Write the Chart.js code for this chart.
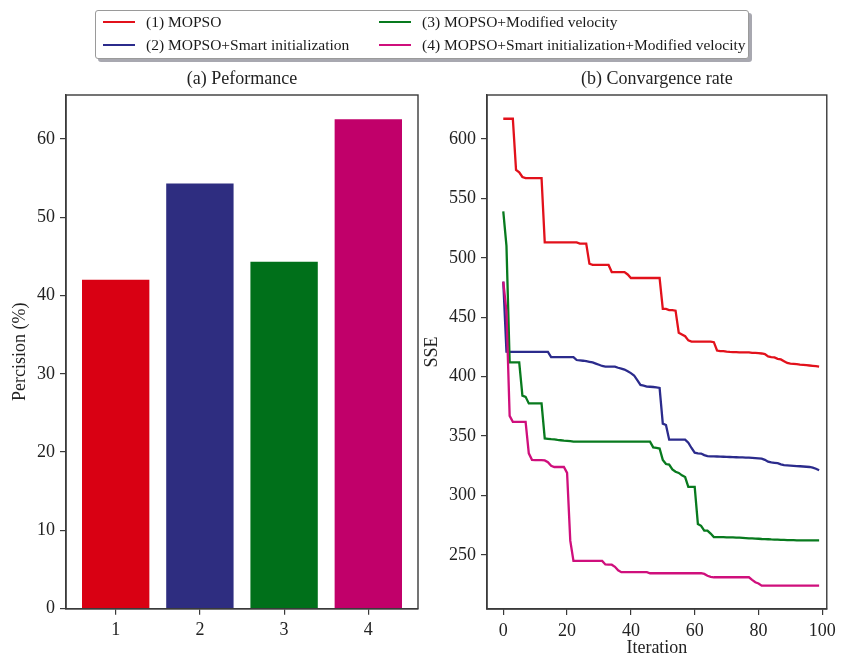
<!DOCTYPE html>
<html>
<head>
<meta charset="utf-8">
<script src="https://cdn.jsdelivr.net/npm/chart.js@4.4.1/dist/chart.umd.min.js"></script>
<style>
  html, body { margin:0; padding:0; background:#fff; }
  #wrap { position:relative; width:841px; height:657px; overflow:hidden; background:#fff; font-family:'Liberation Serif','Times New Roman',serif; }
  canvas { position:absolute; top:0; }
  #cA { left:0; }
  #cB { left:420px; }
  #legend { position:absolute; left:95px; top:10px; width:652px; height:47px; border:1px solid #9a9a9a; border-radius:3px; background:#fff; box-shadow:3px 3px 0 #a8a8b0; z-index:5; }
  .lg { position:absolute; height:20px; display:flex; align-items:center; font-size:15.5px; color:#1a1a1a; white-space:nowrap; }
  .lg .h { width:32px; height:2px; margin-right:11px; }
</style>
</head>
<body>
<div id="wrap">
  <canvas id="cA" width="430" height="657"></canvas>
  <canvas id="cB" width="421" height="657"></canvas>
  <div id="legend"></div>
</div>
<script>
// ---------- data ----------
const seriesNames = ['(1) MOPSO', '(2) MOPSO+Smart initialization', '(3) MOPSO+Modified velocity', '(4) MOPSO+Smart initialization+Modified velocity'];
const barCategories = [1, 2, 3, 4];
const barValues = [42.0, 54.3, 44.3, 62.5];
const barTicks = [0, 10, 20, 30, 40, 50, 60];

const sseTicks = [250, 300, 350, 400, 450, 500, 550, 600];
const iterTicks = [0, 20, 40, 60, 80, 100];

const mopso = [617,617,617,617,574,572,568,567,567,567,567,567,567,
  513,513,513,513,513,513,513,513,513,513,513,512,512,512,495,
  494,494,494,494,494,494,488,488,488,488,488,486,
  483,483,483,483,483,483,483,483,483,483,
  457,457,456,456,455.5,437,435.5,434,430.5,
  429.5,429.5,429.5,429.5,429.5,429.5,429.5,429,
  422,421.5,421.5,421,420.8,420.7,420.6,420.5,420.5,420.4,420.4,
  420,420,419.8,419.5,419,417,416.5,416.2,415,414.5,413,411.5,
  411,410.8,410.5,410.2,410,409.7,409.4,409.1,408.8,408.5];

const mopsoSmart = [480,421,
  420.8,420.8,420.8,420.8,420.8,420.8,420.8,420.8,420.8,420.8,420.8,420.8,420.8,
  416.5,416.5,416.5,416.5,416.5,416.5,416.5,416.5,
  414,413.7,413.4,413,412.5,412,411,410,409,
  408.5,408.5,408.5,408.5,407.5,406.8,406,404.5,403,401,397,393,392.5,
  391.7,391.5,391.3,391,390.5,360.5,359.3,
  347,347,347,347,347,347,344.5,340,336,335.5,335.3,334,
  333.2,333,332.9,332.8,332.7,332.6,332.5,
  332.4,332.3,332.2,332.1,332,331.9,331.8,331.6,331.4,331.2,
  331,330,328.5,327.8,327.5,327.2,326.2,
  325.6,325.4,325.2,325,324.8,324.6,324.4,
  324.2,324,323.5,322.5,321.3];

const mopsoVel = [539,510,412,412,412,412,384,383,377.5,377.5,377.5,377.5,377.5,
  348,347.7,347.4,347.2,346.8,346.5,346.2,346,345.7,
  345.3,345.3,345.3,345.3,345.3,345.3,345.3,345.3,345.3,345.3,345.3,345.3,345.3,
  345.3,345.3,345.3,345.3,345.3,345.3,345.3,345.3,345.3,345.3,345.3,345.3,
  340.5,340,339.5,330,326.5,326,322,320,319,317,315.5,
  307.2,307.2,307.2,276,274.5,270.5,270.5,268,
  265,265,265,265,264.8,264.8,264.7,264.6,264.5,264.4,
  264.2,264,263.9,263.7,263.6,263.4,263.3,263.2,263,262.9,
  262.8,262.7,262.6,262.5,262.5,262.4,262.3,262.3,262.2,262.2,262.2,262.2,262.2,262.2];

const mopsoSmartVel = [480,455,367,362,362,362,362,362,335.5,330,329.8,329.7,329.7,
  329.5,328,325,324,324,324,324,319,262,
  245,245,245,245,245,245,245,245,245,245,
  242,241.8,241.8,240,237,
  235.5,235.5,235.5,235.5,235.5,235.5,235.5,235.5,235.5,
  234.6,234.6,234.6,234.6,234.6,234.6,234.6,234.6,234.6,234.6,234.6,234.6,234.6,234.6,234.6,234.6,234.6,
  234,232.5,231.5,
  231.2,231.2,231.2,231.2,231.2,231.2,231.2,231.2,231.2,231.2,231.2,231.2,
  229,227,226,
  224.2,224.2,224.2,224.2,224.2,224.2,224.2,224.2,224.2,224.2,224.2,224.2,224.2,224.2,224.2,224.2,224.2,224.2,224.2];

const iterations = mopso.map((_, i) => i);

// ---------- styles ----------
const barColors = ['#d90013', '#2e2d80', '#00701a', '#c1006a'];
const lineColors = ['#e2111b', '#2b2b8c', '#087a1e', '#cf0f7c'];
const FONT = "'Liberation Serif', 'Times New Roman', serif";
const TXT = '#222222';
const AX = '#3a3a3a';

// ---------- legend (HTML) ----------
const legendPos = [[7, 1], [7, 24], [283, 1], [283, 24]];
const legendEl = document.getElementById('legend');
seriesNames.forEach((name, i) => {
  const d = document.createElement('div');
  d.className = 'lg';
  d.style.left = legendPos[i][0] + 'px';
  d.style.top = legendPos[i][1] + 'px';
  const h = document.createElement('span');
  h.className = 'h';
  h.style.background = lineColors[i];
  const t = document.createElement('span');
  t.textContent = name;
  d.appendChild(h); d.appendChild(t);
  legendEl.appendChild(d);
});

// ---------- helpers ----------
const frame = {
  id: 'frame',
  afterDatasetsDraw(chart) {
    const a = chart.chartArea, c = chart.ctx;
    c.save();
    c.strokeStyle = AX;
    c.lineWidth = 1.4;
    c.strokeRect(a.left, a.top, a.right - a.left, a.bottom - a.top);
    c.restore();
  }
};
function axisCommon(extra) {
  return Object.assign({
    grid: { display: true, drawOnChartArea: false, drawTicks: true, tickLength: 6, color: AX, lineWidth: 1.2, offset: false },
    border: { display: true, color: AX, width: 1.4 },
    ticks: { font: { family: FONT, size: 18 }, color: TXT, padding: 5 }
  }, extra);
}
const titleFont = { family: FONT, size: 18, weight: 'normal', lineHeight: 1.2 };

// ---------- (a) bar chart ----------
new Chart(document.getElementById('cA'), {
  type: 'bar',
  data: {
    datasets: [{
      data: barCategories.map((c, i) => ({ x: c, y: barValues[i] })),
      backgroundColor: barColors,
      borderWidth: 0,
      barPercentage: 0.8,
      categoryPercentage: 1.0
    }]
  },
  options: {
    responsive: false, animation: false, devicePixelRatio: 1,
    layout: { padding: { left: 0, right: 12, top: 0, bottom: 0 } },
    plugins: {
      legend: { display: false }, tooltip: { enabled: false },
      title: { display: true, text: '(a) Peformance', fullSize: false, font: titleFont, color: TXT, padding: { top: 68.5, bottom: 4.9 } }
    },
    scales: {
      x: axisCommon({
        type: 'linear', min: 0.41, max: 4.59, offset: false,
        afterBuildTicks: s => { s.ticks = barCategories.map(v => ({ value: v })); },
        afterFit: s => { s.height = 48.3; }
      }),
      y: axisCommon({
        type: 'linear', min: 0, max: 65.6,
        title: { display: true, text: 'Percision (%)', font: titleFont, color: TXT, padding: { top: 9.2, bottom: 0 } },
        afterBuildTicks: s => { s.ticks = barTicks.map(v => ({ value: v })); },
        afterFit: s => { s.width = 66; }
      })
    }
  },
  plugins: [frame]
});

// ---------- (b) line chart ----------
const lineSeries = [mopso, mopsoSmart, mopsoVel, mopsoSmartVel];
new Chart(document.getElementById('cB'), {
  type: 'line',
  data: {
    datasets: lineSeries.map((vals, k) => ({
      label: seriesNames[k],
      data: iterations.map((x, i) => ({ x: x, y: vals[i] })),
      borderColor: lineColors[k],
      borderWidth: 2.3,
      pointRadius: 0,
      tension: 0,
      fill: false,
      order: 4 - k
    }))
  },
  options: {
    responsive: false, animation: false, devicePixelRatio: 1,
    layout: { padding: { left: 0, right: 9, top: 0, bottom: 0 } },
    plugins: {
      legend: { display: false }, tooltip: { enabled: false },
      title: { display: true, text: '(b) Convargence rate', fullSize: false, font: titleFont, color: TXT, padding: { top: 68.5, bottom: 4.9 } }
    },
    scales: {
      x: axisCommon({
        type: 'linear', min: -5.1, max: 101.4,
        title: { display: true, text: 'Iteration', font: { family: FONT, size: 18, lineHeight: 1.0 }, color: TXT, padding: { top: 0, bottom: 0 } },
        afterBuildTicks: s => { s.ticks = iterTicks.map(v => ({ value: v })); },
        afterFit: s => { s.height = 48; }
      }),
      y: axisCommon({
        type: 'linear', min: 204.5, max: 637,
        title: { display: true, text: 'SSE', font: titleFont, color: TXT, padding: { top: 1.5, bottom: 0 } },
        afterBuildTicks: s => { s.ticks = sseTicks.map(v => ({ value: v })); },
        afterFit: s => { s.width = 67; }
      })
    }
  },
  plugins: [frame]
});
</script>
</body>
</html>
